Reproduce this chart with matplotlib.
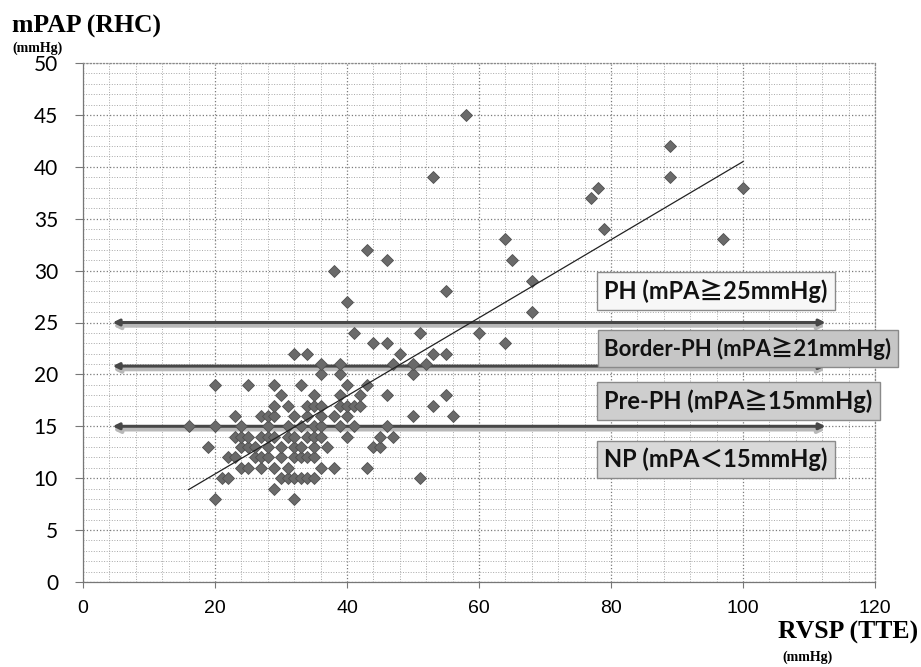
# mPAP (RHC) vs RVSP (TTE) scatter with PH category bands
import numpy as np
import matplotlib.pyplot as plt
from matplotlib.ticker import MultipleLocator

# ---- data ----
rvsp = [20, 32,
        29,
        21, 22, 30, 31, 32, 33, 34, 35, 51,
        24, 25, 27, 29, 31, 36, 38, 43,
        22, 23, 26, 27, 28, 30, 32, 33, 34, 35,
        19, 24, 25, 26, 28, 30, 32, 33, 35, 37, 44, 45,
        23, 24, 25, 27, 28, 29, 31, 32, 34, 35, 36, 40, 45, 47,
        16, 20, 24, 28, 31, 33, 35, 36, 39, 41, 46,
        23, 27, 28, 29, 32, 34, 36, 38, 40, 50, 56,
        29, 31, 34, 35, 36, 39, 40, 41, 42, 53,
        30, 35, 39, 42, 46, 55,
        20, 25, 29, 33, 40, 43,
        36, 39, 50,
        36, 39, 47, 50, 52,
        32, 34, 48, 53, 55,
        44, 46, 64,
        41, 51, 60,
        68, 40, 55, 68, 38,
        46, 65, 43, 64, 97, 79, 77,
        78, 100, 53, 89, 89, 58]
mpap = [8, 8,
        9,
        10, 10, 10, 10, 10, 10, 10, 10, 10,
        11, 11, 11, 11, 11, 11, 11, 11,
        12, 12, 12, 12, 12, 12, 12, 12, 12, 12,
        13, 13, 13, 13, 13, 13, 13, 13, 13, 13, 13, 13,
        14, 14, 14, 14, 14, 14, 14, 14, 14, 14, 14, 14, 14, 14,
        15, 15, 15, 15, 15, 15, 15, 15, 15, 15, 15,
        16, 16, 16, 16, 16, 16, 16, 16, 16, 16, 16,
        17, 17, 17, 17, 17, 17, 17, 17, 17, 17,
        18, 18, 18, 18, 18, 18,
        19, 19, 19, 19, 19, 19,
        20, 20, 20,
        21, 21, 21, 21, 21,
        22, 22, 22, 22, 22,
        23, 23, 23,
        24, 24, 24,
        26, 27, 28, 29, 30,
        31, 31, 32, 33, 33, 34, 37,
        38, 38, 39, 39, 42, 45]

trend_x = [16, 100]
trend_y = [8.9, 40.5]

band_levels = [25, 20.8, 15]
band_span = [4.5, 112.5]
band_labels = ['PH (mPA≧25mmHg)', 'Border-PH (mPA≧21mmHg)',
               'Pre-PH (mPA≧15mmHg)', 'NP (mPA＜15mmHg)']
label_y = [28.0, 22.5, 17.4, 11.8]
label_size = [17, 16, 17, 17]
label_fill = ['#f7f7f7', '#c6c6c6', '#cecece', '#d9d9d9']

xticks = [0, 20, 40, 60, 80, 100, 120]
yticks = [0, 5, 10, 15, 20, 25, 30, 35, 40, 45, 50]
#
fig = plt.figure(figsize=(9.21, 6.67), dpi=100)
ax = fig.add_axes([83 / 921, 85 / 667, 792 / 921, 519 / 667])
ax.set_xlim(0, 120)
ax.set_ylim(0, 50)

# grid
ax.xaxis.set_major_locator(MultipleLocator(20))
ax.xaxis.set_minor_locator(MultipleLocator(4))
ax.yaxis.set_major_locator(MultipleLocator(5))
ax.yaxis.set_minor_locator(MultipleLocator(1))
ax.grid(which='major', color='#7a7a7a', ls=':', lw=0.9, zorder=0)
ax.grid(which='minor', color='#a8a8a8', ls=':', lw=0.7, zorder=0)
ax.set_axisbelow(True)
for s in ['left', 'bottom']:
    ax.spines[s].set_color('#777777')
    ax.spines[s].set_linewidth(0.9)
for s in ['top', 'right']:
    ax.spines[s].set_color('#8a8a8a')
    ax.spines[s].set_linestyle(':')
    ax.spines[s].set_linewidth(0.9)

ax.set_xticks(xticks)
ax.set_yticks(yticks)
ax.tick_params(axis='x', which='major', direction='out', length=4, color='#777777',
               pad=9, labelsize=14)
ax.tick_params(axis='y', which='major', direction='out', length=6, color='#777777',
               pad=12, labelsize=15)
ax.tick_params(which='minor', length=0)
for lb in ax.get_xticklabels():
    lb.set_fontfamily('Liberation Sans')
for lb in ax.get_yticklabels():
    lb.set_fontfamily('Lato')

# category arrows (with shadow)
for y in band_levels:
    ax.annotate('', xy=(band_span[1], y - 0.3), xytext=(band_span[0], y - 0.3),
                arrowprops=dict(arrowstyle='<|-|>', color='#b8b8b8', lw=3,
                                mutation_scale=9, shrinkA=0, shrinkB=0), zorder=2)
    ax.annotate('', xy=(band_span[1], y), xytext=(band_span[0], y),
                arrowprops=dict(arrowstyle='<|-|>', color='#474747', lw=2.2,
                                mutation_scale=9, shrinkA=0, shrinkB=0), zorder=3)

# scatter + trend
ax.plot(rvsp, mpap, 'D', ms=6.2, color='#6a6a6a', mec='#505050', mew=0.6,
        ls='none', zorder=4)
ax.plot(trend_x, trend_y, color='#222222', lw=0.9, zorder=5)

# category labels
for txt, yy, fs, fc in zip(band_labels, label_y, label_size, label_fill):
    ax.text(79, yy, txt, ha='left', va='center', fontsize=fs, fontweight='bold',
            family=['Lato', 'Noto Sans CJK JP'], color='#111111', zorder=6,
            clip_on=False,
            bbox=dict(boxstyle='square,pad=0.3', fc=fc, ec='#8a8a8a', lw=1.0))

# axis titles
serif = 'Liberation Serif'
fig.text(12 / 921, 1 - 26 / 667, 'mPAP (RHC)', fontsize=18.5, fontweight='bold',
         family=serif, ha='left', va='center')
fig.text(12 / 921, 1 - 48 / 667, '(mmHg)', fontsize=10, fontweight='bold',
         family=serif, ha='left', va='center')
fig.text(778 / 921, 1 - 632 / 667, 'RVSP (TTE)', fontsize=18.5, fontweight='bold',
         family=serif, ha='left', va='center')
fig.text(782 / 921, 1 - 657 / 667, '(mmHg)', fontsize=10, fontweight='bold',
         family=serif, ha='left', va='center')

fig.savefig('out.png', dpi=100)
